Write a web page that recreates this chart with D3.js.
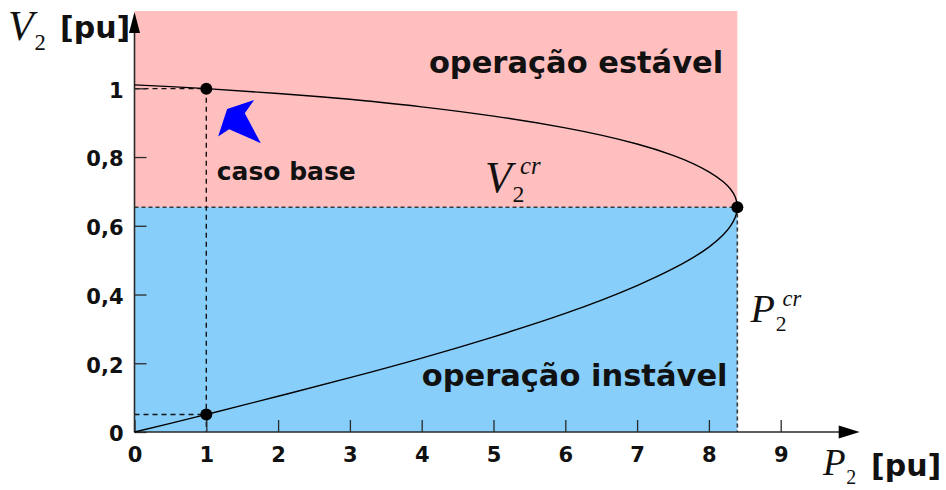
<!DOCTYPE html>
<html>
<head>
<meta charset="utf-8">
<script src="https://cdn.jsdelivr.net/npm/d3@7"></script>
<style>
  html, body { margin: 0; padding: 0; background: #fff; }
  svg { display: block; }
</style>
</head>
<body>
<svg id="chart" width="946" height="490"></svg>
<script>
// P-V (nose) curve of the load bus: active power P2 [pu] vs voltage V2 [pu]
// Points run from the stable branch (top) through the nose to the unstable branch.
const curveP = [0, 0.5, 1, 2, 3, 4, 5, 6, 7, 7.5, 8, 8.2, 8.3, 8.37, 8.396,
                8.37, 8.3, 8.2, 8, 7.5, 7, 6, 5, 4, 3, 2, 1, 0.5, 0];
const curveV = [1.010, 1.005, 0.999, 0.985, 0.968, 0.946, 0.919, 0.885, 0.838, 0.805, 0.757, 0.728, 0.707, 0.682, 0.654,
                0.626, 0.599, 0.574, 0.538, 0.475, 0.426, 0.345, 0.277, 0.215, 0.158, 0.104, 0.051, 0.025, 0];

// Base case operating points (P2 = 1 pu)
const baseP = 1;
const baseV = [0.999, 0.051];

// Critical (maximum loadability) point
const critP = 8.396;
const critV = 0.654;

// Axis ticks
const xTicks = [0, 1, 2, 3, 4, 5, 6, 7, 8, 9];
const xTickLabels = ["0", "1", "2", "3", "4", "5", "6", "7", "8", "9"];
const yTicks = [0, 0.2, 0.4, 0.6, 0.8, 1];
const yTickLabels = ["0", "0,2", "0,4", "0,6", "0,8", "1"];

// Extent of the drawn axes (arrow tips) and of the shaded regions
const xAxisEnd = 10.1;
const yAxisEnd = 1.225;

const svg = d3.select("#chart");

const x = d3.scaleLinear().domain([0, 9]).range([134.5, 780.7]);
const y = d3.scaleLinear().domain([0, 1]).range([432, 88.3]);

const pink = "#FFBFBF";
const blue = "#87CEFA";
const axisColor = "#2a2a2a";
const sans = "'DejaVu Sans', sans-serif";
const serif = "'Liberation Serif', 'DejaVu Serif', serif";

// Stable (upper) and unstable (lower) operating regions
svg.append("rect")
  .attr("x", x(0)).attr("y", y(yAxisEnd))
  .attr("width", x(critP) - x(0)).attr("height", y(critV) - y(yAxisEnd))
  .attr("fill", pink);
svg.append("rect")
  .attr("x", x(0)).attr("y", y(critV))
  .attr("width", x(critP) - x(0)).attr("height", y(0) - y(critV))
  .attr("fill", blue);

// Critical guides
svg.append("path")
  .attr("d", `M${x(0)},${y(critV)}H${x(critP)}V${y(0)}`)
  .attr("fill", "none").attr("stroke", "#3a3a3a")
  .attr("stroke-width", 1.6).attr("stroke-dasharray", "4,3");

// Base case guides
svg.append("path")
  .attr("d", `M${x(0)},${y(baseV[0])}H${x(baseP)}V${y(0)}`)
  .attr("fill", "none").attr("stroke", "#111")
  .attr("stroke-width", 1.4).attr("stroke-dasharray", "5,4");
svg.append("path")
  .attr("d", `M${x(0)},${y(baseV[1])}H${x(baseP)}`)
  .attr("fill", "none").attr("stroke", "#111")
  .attr("stroke-width", 1.4).attr("stroke-dasharray", "5,4");

// Axes with inward ticks
const xAxis = d3.axisBottom(x).tickValues(xTicks)
  .tickFormat((d, i) => xTickLabels[i]).tickSize(-12).tickPadding(15);
const gx = svg.append("g").attr("transform", `translate(0,${y(0)})`).call(xAxis);
gx.select(".domain").remove();
gx.selectAll(".tick line").attr("stroke", axisColor).attr("stroke-width", 1.3);
gx.selectAll(".tick text")
  .attr("font-family", sans).attr("font-weight", "bold").attr("font-size", 21).attr("fill", "#111");

const yAxis = d3.axisLeft(y).tickValues(yTicks)
  .tickFormat((d, i) => yTickLabels[i]).tickSize(-12).tickPadding(11);
const gy = svg.append("g").attr("transform", `translate(${x(0)},0)`).call(yAxis);
gy.select(".domain").remove();
gy.selectAll(".tick line").attr("stroke", axisColor).attr("stroke-width", 1.3);
gy.selectAll(".tick text")
  .attr("font-family", sans).attr("font-weight", "bold").attr("font-size", 21)
  .attr("fill", "#111").attr("dy", "0.42em");

// Axis lines with arrow heads
svg.append("line")
  .attr("x1", x(0)).attr("y1", y(0)).attr("x2", x(xAxisEnd) - 14).attr("y2", y(0))
  .attr("stroke", axisColor).attr("stroke-width", 1.6);
svg.append("line")
  .attr("x1", x(0)).attr("y1", y(0)).attr("x2", x(0)).attr("y2", y(yAxisEnd) + 14)
  .attr("stroke", axisColor).attr("stroke-width", 1.6);
svg.append("path")
  .attr("d", `M${x(xAxisEnd)},${y(0)}l-21,-6.5l0,13z`).attr("fill", "#000");
svg.append("path")
  .attr("d", `M${x(0)},${y(yAxisEnd) + 1}l-5.5,21l11,0z`).attr("fill", "#000");

// P-V curve
const pts = curveP.map((p, i) => ({ p, v: curveV[i] }));
const line = d3.line().x(d => x(d.p)).y(d => y(d.v)).curve(d3.curveMonotoneY);
svg.append("path").datum(pts)
  .attr("d", line).attr("fill", "none").attr("stroke", "#000").attr("stroke-width", 1.4);

// Highlighted points
const dots = [{ p: baseP, v: baseV[0] }, { p: baseP, v: baseV[1] }, { p: critP, v: critV }];
svg.selectAll("circle.pt").data(dots).join("circle")
  .attr("class", "pt")
  .attr("cx", d => x(d.p)).attr("cy", d => y(d.v)).attr("r", 6).attr("fill", "#000");

// Blue pointer towards the base case
const ax = x(1.29), ay = y(0.94);
svg.append("path")
  .attr("d", `M${ax},${ay}l27,-9l-9.3,13.3l16,30l-31.7,-14l-11,7.4z`)
  .attr("fill", "#0000FF");

// Region and point annotations
svg.append("text").text("operação estável")
  .attr("x", x(4.1)).attr("y", y(1.045))
  .attr("font-family", sans).attr("font-weight", "bold").attr("font-size", 30.5).attr("fill", "#111");
svg.append("text").text("operação instável")
  .attr("x", x(4.0)).attr("y", y(0.135))
  .attr("font-family", sans).attr("font-weight", "bold").attr("font-size", 30.5).attr("fill", "#111");
svg.append("text").text("caso base")
  .attr("x", x(1.145)).attr("y", y(0.733))
  .attr("font-family", sans).attr("font-weight", "bold").attr("font-size", 25).attr("fill", "#111");

// Math labels: italic symbol with subscript and optional superscript
function mathLabel(px, py, sym, sub, sup, size) {
  const g = svg.append("g").attr("transform", `translate(${px},${py})`)
    .attr("font-family", serif).attr("fill", "#111");
  g.append("text").attr("font-style", "italic").attr("font-size", size).text(sym);
  g.append("text").attr("x", size * 0.63).attr("y", size * 0.24)
    .attr("font-size", size * 0.54).text(sub);
  if (sup) {
    g.append("text").attr("x", size * 0.8).attr("y", -size * 0.4)
      .attr("font-style", "italic").attr("font-size", size * 0.56).text(sup);
  }
  return g;
}
mathLabel(x(4.88), y(0.699), "V", "2", "cr", 44);
mathLabel(x(8.58), y(0.321), "P", "2", "cr", 40);

// Axis titles
mathLabel(8, 40, "V", "2", null, 42);
svg.append("text").text("[pu]")
  .attr("x", 60).attr("y", 38)
  .attr("font-family", sans).attr("font-weight", "bold").attr("font-size", 30).attr("fill", "#111");
mathLabel(823, 475, "P", "2", null, 37);
svg.append("text").text("[pu]")
  .attr("x", 871).attr("y", 476)
  .attr("font-family", sans).attr("font-weight", "bold").attr("font-size", 30).attr("fill", "#111");
</script>
</body>
</html>
